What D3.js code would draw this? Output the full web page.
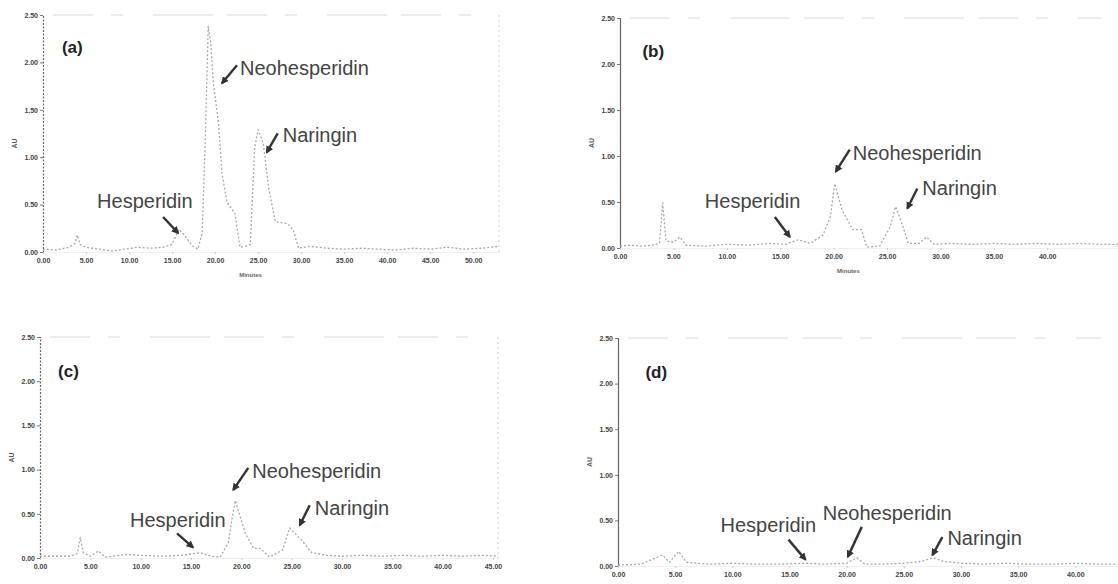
<!DOCTYPE html>
<html><head><meta charset="utf-8">
<script src="https://cdn.jsdelivr.net/npm/d3@7"></script>
<style>
html,body{margin:0;padding:0;background:#fff;}
svg{display:block;}
</style>
</head><body>
<svg id="chart" width="1118" height="584"></svg>
<script>
// ---------- DATA ----------
const yTickValues = [0, 0.5, 1.0, 1.5, 2.0, 2.5];
const xTicksA = [0, 5, 10, 15, 20, 25, 30, 35, 40, 45, 50];
const xTicksB = [0, 5, 10, 15, 20, 25, 30, 35, 40];
const xTicksC = [0, 5, 10, 15, 20, 25, 30, 35, 40, 45];
const xTicksD = [0, 5, 10, 15, 20, 25, 30, 35, 40];
const panelLabels = ["(a)", "(b)", "(c)", "(d)"];
const compounds = ["Hesperidin", "Neohesperidin", "Naringin"];

// chromatogram traces: [minutes, AU]
const traceA = [[0,0.02],[0.3,0.03],[1.5,0.02],[3.0,0.05],[3.7,0.09],[4.0,0.18],[4.3,0.08],[5.0,0.05],[6.5,0.03],[8.0,0.01],[9.5,0.03],[11.0,0.05],[12.5,0.04],[14.0,0.05],[15.0,0.08],[15.8,0.24],[16.5,0.17],[17.3,0.07],[18.0,0.03],[18.5,0.2],[18.9,1.3],[19.2,2.38],[19.5,2.2],[19.8,1.78],[20.4,1.36],[20.8,0.83],[21.4,0.52],[22.3,0.41],[22.9,0.05],[23.5,0.06],[24.1,0.08],[24.6,1.1],[25.0,1.29],[25.6,1.15],[26.2,0.69],[27.0,0.32],[28.4,0.3],[29.1,0.23],[29.7,0.04],[31,0.06],[33,0.04],[35,0.03],[37,0.04],[39,0.03],[41,0.02],[43,0.04],[45,0.03],[47,0.05],[49,0.03],[51,0.04],[53,0.06]];
const traceB = [[0,0.02],[1,0.03],[2,0.02],[3,0.03],[3.7,0.05],[4.0,0.49],[4.3,0.08],[5.0,0.06],[5.6,0.12],[6.2,0.03],[8,0.02],[10,0.04],[12,0.03],[14,0.05],[15.5,0.04],[16.7,0.09],[17.8,0.05],[19,0.14],[19.7,0.34],[20.1,0.7],[20.8,0.41],[21.8,0.2],[22.6,0.2],[23.1,0.01],[24.3,0.02],[25.3,0.23],[25.8,0.45],[26.3,0.3],[27,0.05],[28,0.05],[28.7,0.12],[29.4,0.04],[31,0.05],[33,0.04],[35,0.05],[37,0.04],[39,0.05],[41,0.04],[43,0.05],[45,0.04],[47,0.04]];
const traceC = [[0,0.02],[1.5,0.02],[3,0.02],[3.7,0.05],[4.0,0.23],[4.3,0.06],[5,0.02],[5.8,0.08],[6.5,0.01],[8.5,0.04],[10,0.03],[12,0.02],[14,0.03],[15.9,0.06],[17,0.02],[17.9,0.01],[18.7,0.17],[19.1,0.46],[19.4,0.65],[19.9,0.46],[20.4,0.28],[21.2,0.11],[21.9,0.11],[22.8,0.01],[24.1,0.09],[24.8,0.34],[26,0.2],[27,0.06],[28.5,0.03],[30,0.02],[32,0.03],[34,0.02],[36,0.03],[38,0.02],[40,0.03],[42,0.02],[44,0.03],[45.5,0.02]];
const traceD = [[0,0.01],[2,0.02],[3.9,0.12],[4.5,0.04],[5.3,0.16],[6,0.04],[8,0.02],[10,0.03],[12,0.02],[14,0.02],[16.5,0.03],[18,0.02],[20,0.03],[20.9,0.09],[21.6,0.02],[23,0.02],[25,0.03],[26.5,0.05],[27.6,0.09],[28.5,0.05],[30,0.03],[32,0.02],[34,0.03],[36,0.02],[38,0.02],[40,0.03],[42,0.02],[44,0.02]];

// annotation anchors (arrow tips) in data units: [compound, minutes, AU]
const notesA = [["Hesperidin",15.7,0.20],["Neohesperidin",20.8,1.78],["Naringin",26.0,1.05]];
const notesB = [["Hesperidin",15.9,0.12],["Neohesperidin",20.2,0.83],["Naringin",26.9,0.43]];
const notesC = [["Hesperidin",15.2,0.12],["Neohesperidin",19.2,0.77],["Naringin",25.8,0.37]];
const notesD = [["Hesperidin",16.4,0.07],["Neohesperidin",20.1,0.10],["Naringin",27.5,0.12]];
// panel-letter anchor in data units
const letterPos = [[2.2,2.10],[2.1,2.08],[1.8,2.05],[2.4,2.06]];

// ---------- LAYOUT ----------
const panels = [
  {trace:traceA, ticks:xTicksA, notes:notesA, tmax:53,   x0:43,  x1:499,  y0:252, yTop:15,  xTitle:true, axisDash:"2,1.5", rightBorder:true,
   off:{Hesperidin:{tail:[-15,-16],text:[-81,-25]}, Neohesperidin:{tail:[15,-18],text:[18,-8]}, Naringin:{tail:[11,-19],text:[16,-10]}}},
  {trace:traceB, ticks:xTicksB, notes:notesB, tmax:47,   x0:620, x1:1122, y0:248, yTop:18,  xTitle:true, axisDash:null, rightBorder:false,
   off:{Hesperidin:{tail:[-15,-20],text:[-85,-29]}, Neohesperidin:{tail:[14,-22],text:[17,-12]}, Naringin:{tail:[10,-20],text:[15,-13]}}},
  {trace:traceC, ticks:xTicksC, notes:notesC, tmax:45.5, x0:40,  x1:498,  y0:558, yTop:337, xTitle:false, axisDash:"2,1.5", rightBorder:true,
   off:{Hesperidin:{tail:[-16,-14],text:[-63,-20]}, Neohesperidin:{tail:[15,-22],text:[19,-12]}, Naringin:{tail:[10,-20],text:[15,-10]}}},
  {trace:traceD, ticks:xTicksD, notes:notesD, tmax:44,   x0:618, x1:1121, y0:566, yTop:338, xTitle:false, axisDash:null, rightBorder:false,
   off:{Hesperidin:{tail:[-17,-20],text:[-85,-28]}, Neohesperidin:{tail:[14,-30],text:[-25,-37]}, Naringin:{tail:[10,-18],text:[15,-10]}}}
];

const svg = d3.select("#chart");
svg.append("rect").attr("width",1118).attr("height",584).attr("fill","#fff");

const defs = svg.append("defs");
defs.append("marker").attr("id","arrow").attr("viewBox","0 0 10 10")
  .attr("refX",8).attr("refY",5).attr("markerWidth",3.2).attr("markerHeight",3.2)
  .attr("orient","auto")
  .append("path").attr("d","M0,0 L10,5 L0,10 z").attr("fill","#333");

panels.forEach((p, i) => {
  const x = d3.scaleLinear().domain([0, p.tmax]).range([p.x0, p.x1]);
  const y = d3.scaleLinear().domain([0, 2.5]).range([p.y0, p.yTop]);
  const g = svg.append("g");

  // faint top border
  g.append("line").attr("x1", p.x0 + 10).attr("x2", p.x1 - 20)
    .attr("y1", y(2.5)).attr("y2", y(2.5))
    .attr("stroke", "#dcdcdc").attr("stroke-width", 1.2).attr("stroke-dasharray", "40,18,12,30,60,14");
  if (p.rightBorder) {
    g.append("line").attr("x1", p.x1).attr("x2", p.x1)
      .attr("y1", y(2.5)).attr("y2", y(0))
      .attr("stroke", "#cfcfcf").attr("stroke-width", 1).attr("stroke-dasharray", "2,3");
  }

  // y axis
  const yAxis = d3.axisLeft(y).tickValues(yTickValues).tickFormat(d3.format(".2f")).tickSize(3).tickPadding(2);
  const ya = g.append("g").attr("transform", `translate(${p.x0},0)`).call(yAxis);
  ya.select(".domain").attr("stroke", "#666").attr("stroke-width", 1.2)
    .attr("stroke-dasharray", p.axisDash);
  ya.selectAll(".tick line").attr("stroke", "#777");
  ya.selectAll("text").attr("font-family", "Liberation Sans, Arial, sans-serif")
    .attr("font-size", 7).attr("font-weight", "bold").attr("fill", "#444");

  // x axis
  const xAxis = d3.axisBottom(x).tickValues(p.ticks).tickFormat(d3.format(".2f")).tickSize(2).tickPadding(4);
  const xa = g.append("g").attr("transform", `translate(0,${p.y0})`).call(xAxis);
  xa.select(".domain").attr("stroke", "#ececec").attr("stroke-width", 0.8);
  xa.selectAll(".tick line").attr("stroke", "#ccc");
  xa.selectAll("text").attr("font-family", "Liberation Sans, Arial, sans-serif")
    .attr("font-size", 7).attr("font-weight", "bold").attr("fill", "#444");

  // axis titles
  g.append("text").attr("transform", `translate(${p.x0 - 26},${(y(0)+y(2.5))/2 + 10}) rotate(-90)`)
    .attr("text-anchor", "middle").attr("font-family", "Liberation Sans, Arial, sans-serif")
    .attr("font-size", 7).attr("font-weight", "bold").attr("fill", "#555").text("AU");
  if (p.xTitle) {
    g.append("text").attr("x", x(p.tmax * 0.455)).attr("y", p.y0 + 25)
      .attr("text-anchor", "middle").attr("font-family", "Liberation Sans, Arial, sans-serif")
      .attr("font-size", 6).attr("font-weight", "bold").attr("fill", "#666").text("Minutes");
  }

  // trace
  const line = d3.line().x(d => x(d[0])).y(d => y(d[1]));
  g.append("path").datum(p.trace).attr("d", line)
    .attr("fill", "none").attr("stroke", "#a8a8a8").attr("stroke-width", 1.3)
    .attr("stroke-dasharray", "2,2").attr("stroke-linejoin", "round");

  // panel letter
  g.append("text").attr("x", x(letterPos[i][0])).attr("y", y(letterPos[i][1]))
    .attr("font-family", "Liberation Sans, Arial, sans-serif").attr("font-size", 17)
    .attr("font-weight", "bold").attr("fill", "#222").text(panelLabels[i]);

  // annotations
  p.notes.forEach(n => {
    const tx = x(n[1]), ty = y(n[2]);
    const o = p.off[n[0]];
    g.append("line").attr("x1", tx + o.tail[0]).attr("y1", ty + o.tail[1])
      .attr("x2", tx).attr("y2", ty)
      .attr("stroke", "#333").attr("stroke-width", 2.4).attr("marker-end", "url(#arrow)");
    g.append("text").attr("x", tx + o.text[0]).attr("y", ty + o.text[1])
      .attr("font-family", "Liberation Sans, Arial, sans-serif").attr("font-size", 20)
      .attr("fill", "#444").text(n[0]);
  });
});
</script>
</body></html>
